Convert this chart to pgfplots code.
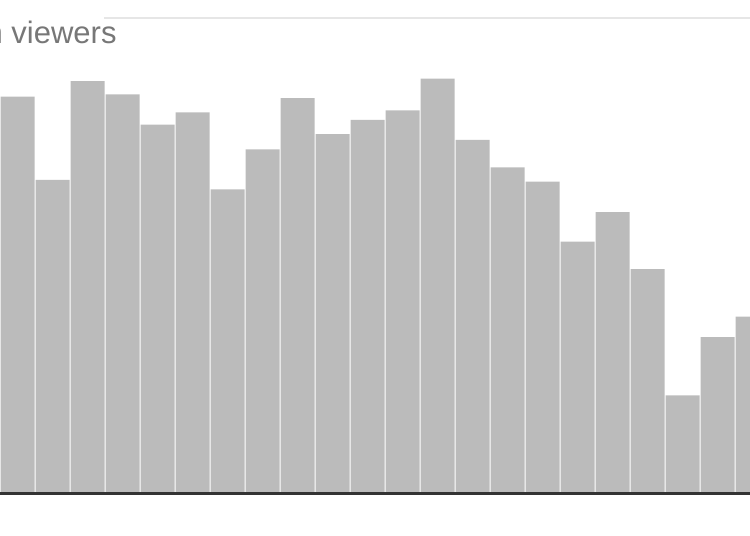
\documentclass[border=0pt]{standalone}
\usepackage{fontspec}
\setmainfont{Liberation Sans}
\usepackage{pgfplots}
\pgfplotsset{compat=1.18}
\usepackage{pgfplotstable}
\definecolor{barc}{HTML}{BBBBBB}
\definecolor{gridc}{HTML}{E6E6E6}
\definecolor{basec}{HTML}{333333}
\definecolor{labc}{HTML}{777777}
\pgfplotstableread{
x y
1 41.75
2 33.0
3 43.4
4 42.0
5 38.8
6 40.1
7 32.0
8 36.2
9 41.6
10 37.8
11 39.3
12 40.3
13 43.65
14 37.2
15 34.3
16 32.8
17 26.5
18 29.6
19 23.6
20 10.3
21 16.45
22 18.6
}\viewers
\begin{document}
\begin{tikzpicture}
\begin{axis}[
  x=17.5pt, y=4.75pt,
  xmin=0.494, xmax=21.923,
  ymin=-4.39, ymax=51.93,
  axis lines=none,
  clip=false,
  xtick=\empty,
  ytick={10,20,30,40},
  yticklabels={},
  major tick length=0pt,
  ymajorgrids,
  grid style={gridc, line width=1pt},
  ybar, bar width=17pt,
]
\addplot[fill=barc, draw=none, bar shift=0pt] table[x=x,y=y] {\viewers};
\draw[gridc, line width=1pt] (axis cs:3.466,50) -- (axis cs:21.923,50);
\draw[basec, line width=1.3pt] (axis cs:0.494,0) -- (axis cs:21.923,0);
\node[anchor=base east, inner sep=0pt, text=labc, font=\fontsize{15.5pt}{17pt}\selectfont] at (axis cs:3.837,47.37) {50 million viewers};
\coordinate (bl) at (rel axis cs:0,0);
\coordinate (tr) at (rel axis cs:1,1);
\end{axis}
\pgfresetboundingbox
\useasboundingbox (bl) rectangle (tr);
\end{tikzpicture}
\end{document}
